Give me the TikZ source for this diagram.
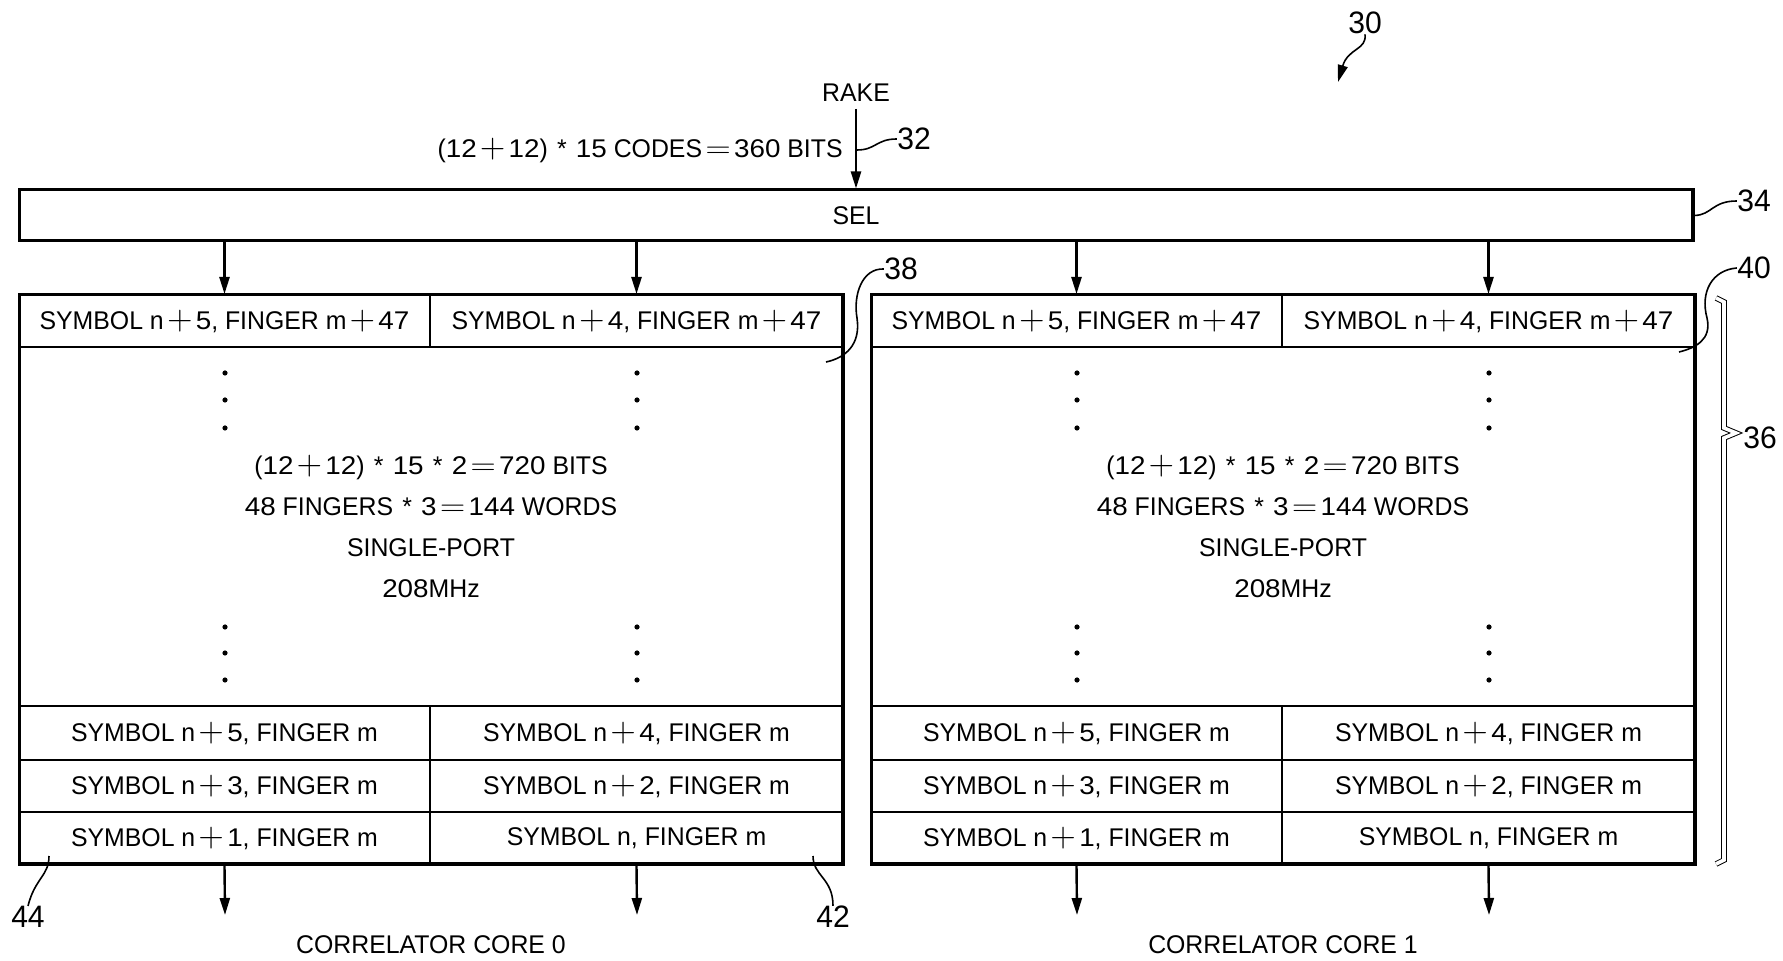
\documentclass[tikz,border=0pt]{standalone}
\usepackage{fontspec}
\usepackage{graphicx}
\setmainfont[FakeStretch=0.97]{Liberation Sans}
\usetikzlibrary{arrows.meta}
\newcommand{\pl}{\kern1.6pt\scalebox{1.4}{$\mathord{+}$}\kern1.6pt}
\newcommand{\eq}{\kern1.6pt\scalebox{1.4}[1.2]{$\mathord{=}$}\kern1.6pt}
\newcommand{\st}{\kern4.6pt*\kern4.6pt}
\newcommand{\nm}[1]{\scalebox{1.12}[1]{#1}}
\tikzset{
  txt/.style={font=\fontsize{12.8}{14}\selectfont, inner sep=0pt},
  lbl/.style={font=\fontsize{15.5}{17}\selectfont, inner sep=0pt},
  cellbox/.style={draw, line width=1pt, inner sep=0pt, font=\fontsize{12.8}{14}\selectfont},
  arr/.style={line width=1.2pt, -{Triangle[length=8.5pt,width=5pt]}},
  lead/.style={line width=0.8pt},
  outer/.style={line width=1.5pt},
  shade/.style={line width=2.2pt},
  dot/.style={fill, circle, inner sep=0pt, minimum size=2.6pt}
}
\newcommand{\coretable}[2]{%
  % #1 = left x offset, #2 = id
  \node[cellbox, minimum width=205.5pt, minimum height=26pt] (t#2a) at (#1+205.5,321) {SYMBOL n\pl\nm{5}, FINGER m\pl\nm{47}};
  \node[cellbox, minimum width=206.5pt, minimum height=26pt] (t#2b) at (#1+617.5,321) {SYMBOL n\pl\nm{4}, FINGER m\pl\nm{47}};
  \node[cellbox, minimum width=412pt, minimum height=179.5pt, align=center,
        font=\fontsize{12.8}{20.6}\selectfont] (t#2m) at (#1+412,526.5)
        {(\nm{12}\pl\nm{12})\st\nm{15}\st\nm{2}\eq\nm{720} BITS\\\nm{48} FINGERS\st\nm{3}\eq\nm{144} WORDS\\SINGLE-PORT\\\nm{208}MHz};
  \node[cellbox, minimum width=205.5pt, minimum height=27pt] (t#2c) at (#1+205.5,733) {SYMBOL n\pl\nm{5}, FINGER m};
  \node[cellbox, minimum width=206.5pt, minimum height=27pt] (t#2d) at (#1+617.5,733) {SYMBOL n\pl\nm{4}, FINGER m};
  \node[cellbox, minimum width=205.5pt, minimum height=26pt] (t#2e) at (#1+205.5,786) {SYMBOL n\pl\nm{3}, FINGER m};
  \node[cellbox, minimum width=206.5pt, minimum height=26pt] (t#2f) at (#1+617.5,786) {SYMBOL n\pl\nm{2}, FINGER m};
  \node[cellbox, minimum width=205.5pt, minimum height=26pt] (t#2g) at (#1+205.5,838) {SYMBOL n\pl\nm{1}, FINGER m};
  \node[cellbox, minimum width=206.5pt, minimum height=26pt] (t#2h) at (#1+617.5,838) {SYMBOL n, FINGER m};
  \draw[outer] (#1,295) rectangle (#1+824,864);
  \draw[shade] (#1+824,295) -- (#1+824,864) -- (#1,864);
  \foreach \yy in {373,400,428,627,653,680} {
    \node[dot] at (#1+206,\yy) {};
    \node[dot] at (#1+618,\yy) {};
  }
  \draw[arr] (sel.south -| t#2a) -- (t#2a.north);
  \draw[arr] (sel.south -| t#2b) -- (t#2b.north);
  \coordinate (o#2l) at (#1+206,915);
  \coordinate (o#2r) at (#1+618,915);
  \draw[arr] (t#2g.south) -- (o#2l);
  \draw[arr] (t#2h.south) -- (o#2r);
  \node[txt] (core#2) at (#1+412,945) {CORRELATOR CORE #2};
}
\begin{document}
\begin{tikzpicture}[x=0.5pt,y=-0.5pt]
\useasboundingbox (0,0) rectangle (1783,961);
% SEL
\node[draw, line width=1.5pt, minimum width=837pt, minimum height=25.5pt, inner sep=0pt,
      font=\fontsize{12.8}{14}\selectfont] (sel) at (856,215.5) {SEL};
\draw[shade] (1693,190) -- (1693,241);
% RAKE input
\node[txt] (rake) at (856,93) {RAKE};
\coordinate (rs) at (856,109);
\draw[arr] (rs) -- (sel.north);
\node[txt, anchor=east] (bits) at (843,150) {(\nm{12}\pl\nm{12})\st\nm{15} CODES\eq\nm{360} BITS};
\node[lbl] (n32) at (914,139) {32};
\coordinate (p32) at (857,150);
\draw[lead] (p32) .. controls (876,150) and (876,139) .. (n32.west);
% 30
\node[lbl] (n30) at (1365,23) {30};
\coordinate (tip30) at (1338,82);
\draw[lead, -{Triangle[length=8.5pt,width=5pt]}] (n30.south) .. controls (1367,50) and (1348,48) .. (tip30);
% 34
\node[lbl] (n34) at (1754,201) {34};
\draw[lead] (sel.east) .. controls (1712,215) and (1712,201) .. (n34.west);
% tables
\coretable{19}{0}
\coretable{871}{1}
% 38
\node[lbl] (n38) at (901,269) {38};
\coordinate (e38) at (826,362);
\draw[lead] (n38.west) .. controls (862,268) and (853,295) .. (857,318) .. controls (861,345) and (845,358) .. (e38);
% 40
\node[lbl] (n40) at (1754,268) {40};
\coordinate (e40) at (1679,352);
\draw[lead] (n40.west) .. controls (1712,270) and (1700,292) .. (1707,318) .. controls (1712,340) and (1695,348) .. (e40);
% 44, 42
\node[lbl] (n44) at (28,917) {44};
\coordinate (e44) at (49,856);
\draw[lead] (e44) .. controls (49,876) and (35,878) .. (n44.north);
\node[lbl] (n42) at (833,917) {42};
\coordinate (e42) at (813,856);
\draw[lead] (e42) .. controls (813,876) and (833,878) .. (n42.north);
% brace 36
\node[lbl] (n36) at (1760,438) {36};
\coordinate (b36) at (1736,433);
\draw[line width=0.5pt, double, double distance=1.8pt]
  (1716,298) -- (1724,302) -- (1724,428) -- (b36) -- (1724,438) -- (1724,860) -- (1716,864);
\end{tikzpicture}
\end{document}
